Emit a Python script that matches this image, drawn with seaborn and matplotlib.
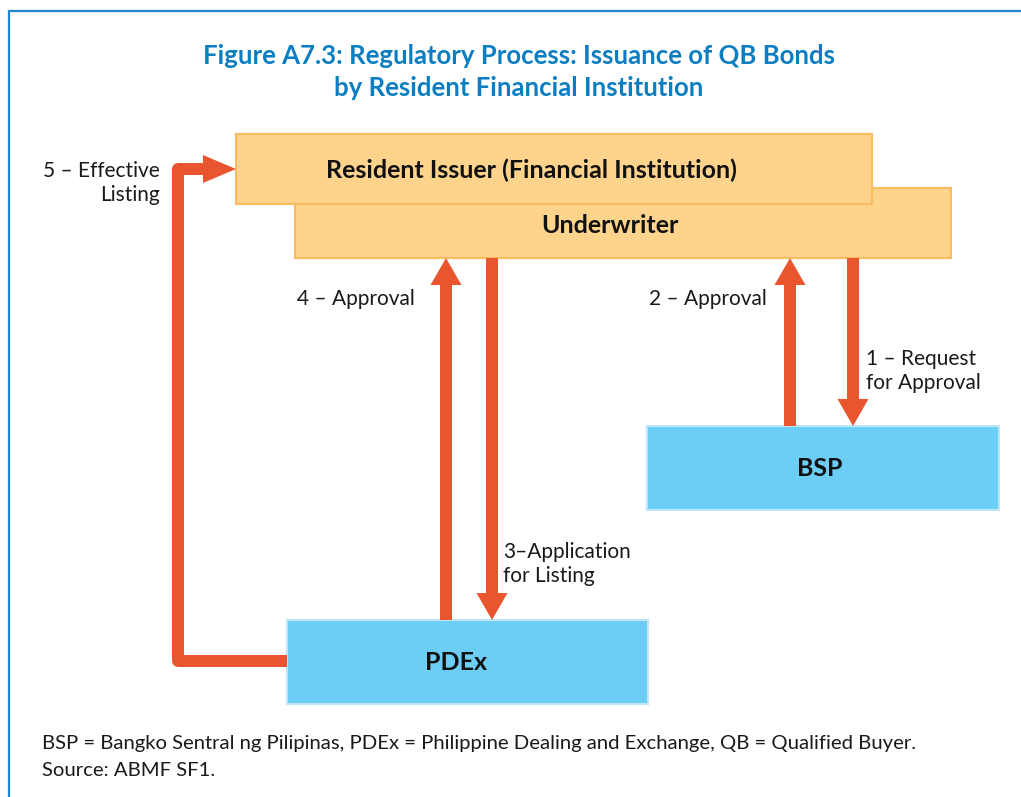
import matplotlib
matplotlib.use('Agg')
import matplotlib.pyplot as plt
import seaborn as sns
from matplotlib.patches import Rectangle, Polygon

# --- content ---
title_lines = ['Figure A7.3: Regulatory Process: Issuance of QB Bonds',
               'by Resident Financial Institution']
box_names = ['Underwriter', 'Resident Issuer (Financial Institution)', 'BSP', 'PDEx']
step_labels = ['1 – Request\nfor Approval', '2 – Approval', '3–Application\nfor Listing',
               '4 – Approval', '5 – Effective\nListing']
notes = ['BSP = Bangko Sentral ng Pilipinas, PDEx = Philippine Dealing and Exchange, QB = Qualified Buyer.',
         'Source: ABMF SF1.']

# --- layout (pixel coords, y down) ---
box_xyxy = {
    'Underwriter': (295, 188, 951, 258),
    'Resident Issuer (Financial Institution)': (236, 134, 872, 204),
    'BSP': (647, 426, 999, 510),
    'PDEx': (287, 620, 648, 704),
}
orange_fill, orange_edge = '#fed48c', '#fdbb5f'
blue_fill, blue_edge = '#6ccef5', '#bfe6f7'
arrow_col = '#e9552f'
title_col = '#0b7dc1'

sns.set_theme(style='white')
plt.rcParams['font.family'] = ['Lato', 'DejaVu Sans']

W, H = 1021, 797
fig = plt.figure(figsize=(W / 100, H / 100), dpi=100)
ax = fig.add_axes([0, 0, 1, 1])
ax.set_xlim(0, W)
ax.set_ylim(H, 0)
ax.axis('off')

# frame (top + left visible)
ax.plot([9, 9, W + 5], [H + 5, 11, 11], color='#1a87cf', lw=1.6, solid_joinstyle='miter')

# title
ax.text(519, 56, title_lines[0], ha='center', va='center', fontsize=18.5,
        fontweight='bold', color=title_col)
ax.text(519, 88, title_lines[1], ha='center', va='center', fontsize=18.5,
        fontweight='bold', color=title_col)

# boxes
for name in box_names:
    x0, y0, x1, y1 = box_xyxy[name]
    is_orange = name in box_names[:2]
    ax.add_patch(Rectangle((x0, y0), x1 - x0, y1 - y0,
                           facecolor=orange_fill if is_orange else blue_fill,
                           edgecolor=orange_edge if is_orange else blue_edge,
                           lw=1.5, zorder=2))

label_pos = {
    'Underwriter': (610, 225),
    'Resident Issuer (Financial Institution)': (531, 170),
    'BSP': (820, 468),
    'PDEx': (456, 663),
}
for name in box_names:
    ax.text(*label_pos[name], name, ha='center', va='center', fontsize=18,
            fontweight='bold', color='#111111', zorder=4)


def arrow(x, y_from, y_to, shaft=12, head_w=31, head_l=27):
    d = 1 if y_to > y_from else -1
    y_base = y_to - d * head_l
    ax.add_patch(Rectangle((x - shaft / 2, min(y_from, y_base)), shaft,
                           abs(y_base - y_from), color=arrow_col, lw=0, zorder=3))
    ax.add_patch(Polygon([(x - head_w / 2, y_base), (x + head_w / 2, y_base), (x, y_to)],
                         closed=True, color=arrow_col, lw=0, zorder=3))


arrow(853, 258, 426)   # 1
arrow(790, 426, 258)   # 2
arrow(492, 258, 620)   # 3
arrow(446, 620, 258)   # 4

# 5: elbow arrow from PDEx back to issuer
ax.plot([287, 178, 178, 205], [661, 661, 169, 169], color=arrow_col,
        lw=12 * 0.72, solid_joinstyle='round', solid_capstyle='butt', zorder=3)
ax.add_patch(Polygon([(203, 155), (203, 183), (236, 169)], closed=True,
                     color=arrow_col, lw=0, zorder=3))

# step labels
fs = 15
ls = 1.3
ax.text(866, 371, step_labels[0], ha='left', va='center', fontsize=fs,
        linespacing=ls, color='#1a1a1a')
ax.text(767, 299, step_labels[1], ha='right', va='center', fontsize=fs, color='#1a1a1a')
ax.text(503, 564, step_labels[2], ha='left', va='center', fontsize=fs,
        linespacing=ls, color='#1a1a1a')
ax.text(415, 299, step_labels[3], ha='right', va='center', fontsize=fs, color='#1a1a1a')
ax.text(160, 183, step_labels[4], ha='right', va='center', fontsize=fs,
        linespacing=ls, color='#1a1a1a')

# footnote
ax.text(42, 744, notes[0], ha='left', va='center', fontsize=14.6, color='#1a1a1a')
ax.text(42, 770, notes[1], ha='left', va='center', fontsize=14.6, color='#1a1a1a')

fig.savefig('out.png', dpi=100)
